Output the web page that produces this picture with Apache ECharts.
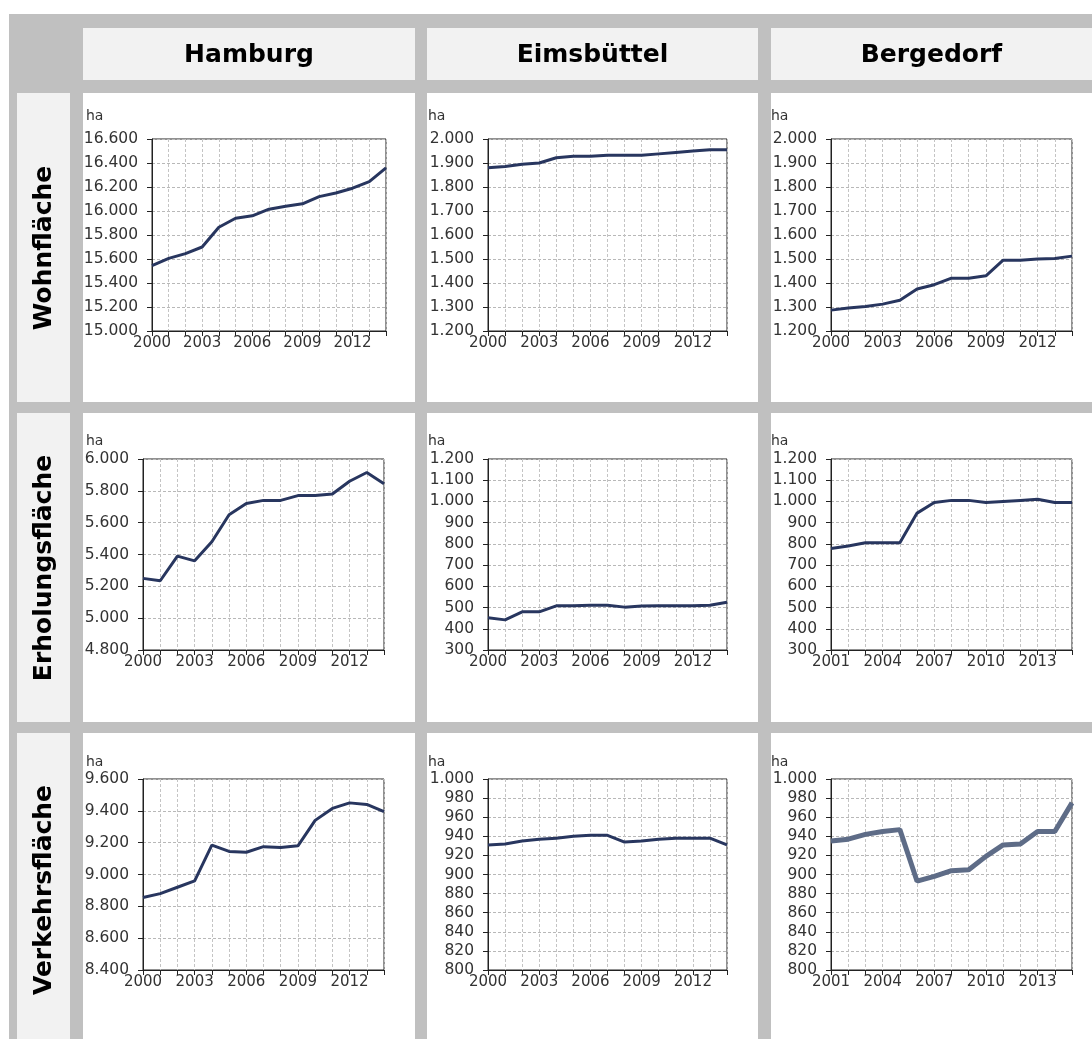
<!DOCTYPE html>
<html>
<head>
<meta charset="utf-8">
<script src="https://cdn.jsdelivr.net/npm/echarts@6/dist/echarts.min.js"></script>
<style>
html,body{margin:0;padding:0;background:#fff;}
#chart{width:1092px;height:1039px;}
</style>
</head>
<body>
<div id="chart"></div>
<script>
// ---- data ----
const columnTitles = ['Hamburg', 'Eimsbüttel', 'Bergedorf'];
const rowTitles = ['Wohnfläche', 'Erholungsfläche', 'Verkehrsfläche'];
const years2000 = ['2000','2001','2002','2003','2004','2005','2006','2007','2008','2009','2010','2011','2012','2013','2014'];
const years2001 = ['2001','2002','2003','2004','2005','2006','2007','2008','2009','2010','2011','2012','2013','2014','2015'];

const hamburgWohn = [15545, 15605, 15645, 15700, 15865, 15940, 15960, 16015, 16040, 16060, 16120, 16150, 16190, 16245, 16360];
const eimsWohn    = [1880, 1885, 1895, 1900, 1922, 1928, 1928, 1932, 1932, 1932, 1938, 1944, 1950, 1955, 1955];
const bergWohn    = [1287, 1296, 1302, 1312, 1328, 1375, 1393, 1420, 1420, 1430, 1495, 1495, 1500, 1502, 1512];

const hamburgErh  = [5250, 5235, 5390, 5360, 5480, 5650, 5720, 5740, 5740, 5770, 5770, 5780, 5860, 5915, 5845];
const eimsErh     = [452, 442, 480, 480, 508, 508, 511, 511, 502, 507, 508, 508, 508, 511, 525];
const bergErh     = [778, 790, 805, 805, 805, 945, 995, 1005, 1005, 995, 1000, 1005, 1010, 995, 995];

const hamburgVerk = [8855, 8880, 8920, 8960, 9185, 9145, 9140, 9175, 9170, 9180, 9340, 9415, 9450, 9440, 9395];
const eimsVerk    = [931, 932, 935, 937, 938, 940, 941, 941, 934, 935, 937, 938, 938, 938, 931];
const bergVerk    = [935, 937, 942, 945, 947, 893, 898, 904, 905, 919, 931, 932, 945, 945, 975];

// y axis ranges per panel: [min, max, interval]
const axisHamburgWohn = [15000, 16600, 200];
const axisEimsWohn    = [1200, 2000, 100];
const axisBergWohn    = [1200, 2000, 100];
const axisHamburgErh  = [4800, 6000, 200];
const axisEimsErh     = [300, 1200, 100];
const axisBergErh     = [300, 1200, 100];
const axisHamburgVerk = [8400, 9600, 200];
const axisEimsVerk    = [800, 1000, 20];
const axisBergVerk    = [800, 1000, 20];

// ---- build ----
const panels = [
  {data: hamburgWohn, cats: years2000, ax: axisHamburgWohn},
  {data: eimsWohn,    cats: years2000, ax: axisEimsWohn},
  {data: bergWohn,    cats: years2000, ax: axisBergWohn},
  {data: hamburgErh,  cats: years2000, ax: axisHamburgErh},
  {data: eimsErh,     cats: years2000, ax: axisEimsErh},
  {data: bergErh,     cats: years2001, ax: axisBergErh},
  {data: hamburgVerk, cats: years2000, ax: axisHamburgVerk},
  {data: eimsVerk,    cats: years2000, ax: axisEimsVerk},
  {data: bergVerk,    cats: years2001, ax: axisBergVerk}
];

function fmt(v){
  const s = String(Math.round(v));
  return s.replace(/\B(?=(\d{3})+(?!\d))/g, '.');
}

const rowTop = [139, 459, 779];
const rowH = [192, 191, 191];
const colLeftRow0 = [152, 488, 831], colWRow0 = [234, 239, 241];
const colLeft = [143, 488, 831], colW = [241, 239, 241];

const panelX = [83, 427, 771], panelW = [332, 331, 321];
const panelY = [93, 413, 733], panelH = [309, 309, 306];
const haY = [116, 441, 762];
const haX = [86, 428, 771];

const labelFont = '"DejaVu Sans", sans-serif';
const grids = [], xAxes = [], yAxes = [], series = [];
panels.forEach((p, i) => {
  const r = Math.floor(i / 3), c = i % 3;
  const left = r === 0 ? colLeftRow0[c] : colLeft[c];
  const w = r === 0 ? colWRow0[c] : colW[c];
  grids.push({left: left, top: rowTop[r], width: w, height: rowH[r],
    show: true, borderColor: '#222', borderWidth: 1, backgroundColor: 'transparent', containLabel: false});
  xAxes.push({type: 'category', gridIndex: i, data: p.cats, boundaryGap: false,
    axisLine: {show: true, lineStyle: {color: '#222', width: 1}},
    axisTick: {show: true, interval: 0, length: 5, lineStyle: {color: '#222'}},
    axisLabel: {interval: 2, margin: 5, color: '#333', fontSize: 15, fontFamily: labelFont},
    splitLine: {show: true, interval: 0, lineStyle: {color: '#c4c4c4', type: [3, 2], width: 1}}
  });
  yAxes.push({type: 'value', gridIndex: i, min: p.ax[0], max: p.ax[1], interval: p.ax[2],
    axisLine: {show: true, lineStyle: {color: '#222', width: 1}},
    axisTick: {show: true, length: 5, lineStyle: {color: '#222'}},
    axisLabel: {margin: 14, color: '#333', fontSize: 15.5, fontFamily: labelFont, formatter: fmt},
    splitLine: {show: true, lineStyle: {color: '#b8b8b8', type: [3, 2], width: 1}}
  });
  const last = i === 8;
  series.push({type: 'line', xAxisIndex: i, yAxisIndex: i, data: p.data, symbol: 'none',
    lineStyle: {color: last ? '#5e6c87' : '#28365f', width: last ? 5 : 3},
    silent: true, animation: false});
});

const graphics = [];
// gray background
graphics.push({type: 'rect', shape: {x: 9, y: 14, width: 1083, height: 1025}, style: {fill: '#c0c0c0'}, z: -100});
// header boxes
for (let c = 0; c < 3; c++) {
  graphics.push({type: 'rect', shape: {x: panelX[c], y: 28, width: panelW[c], height: 52}, style: {fill: '#f2f2f2'}, z: -90});
  graphics.push({type: 'text', x: panelX[c] + panelW[c] / 2, y: 55,
    style: {text: columnTitles[c], align: 'center', verticalAlign: 'middle',
      font: 'bold 25px "DejaVu Sans", sans-serif', fill: '#000'}, z: 10});
}
// row label boxes and panels
const rowLabelY = [248, 568, 890];
for (let r = 0; r < 3; r++) {
  graphics.push({type: 'rect', shape: {x: 17, y: panelY[r], width: 53, height: panelH[r]}, style: {fill: '#f2f2f2'}, z: -90});
  graphics.push({type: 'text', x: 44, y: rowLabelY[r], rotation: Math.PI / 2,
    style: {text: rowTitles[r], align: 'center', verticalAlign: 'middle',
      font: 'bold 25px "DejaVu Sans", sans-serif', fill: '#000'}, z: 10});
  for (let c = 0; c < 3; c++) {
    graphics.push({type: 'rect', shape: {x: panelX[c], y: panelY[r], width: panelW[c], height: panelH[r]}, style: {fill: '#ffffff'}, z: -90});
    graphics.push({type: 'text', x: haX[c], y: haY[r],
      style: {text: 'ha', align: 'left', verticalAlign: 'middle',
        font: '14px "DejaVu Sans", sans-serif', fill: '#333'}, z: 10});
  }
}

const chart = echarts.init(document.getElementById('chart'), null, {renderer: 'canvas'});
chart.setOption({
  animation: false,
  backgroundColor: '#ffffff',
  graphic: {elements: graphics},
  grid: grids,
  xAxis: xAxes,
  yAxis: yAxes,
  series: series
});
</script>
</body>
</html>
